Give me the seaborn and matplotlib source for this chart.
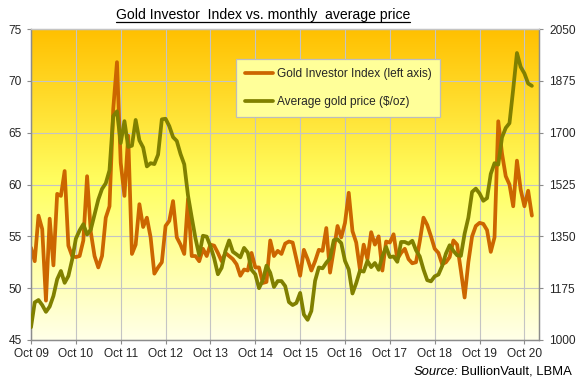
import numpy as np
import pandas as pd
import matplotlib
matplotlib.use("Agg")
import matplotlib.pyplot as plt
import seaborn as sns
from matplotlib.colors import LinearSegmentedColormap
from matplotlib.lines import Line2D

# ---------------- data ----------------
tick_labels = ["Oct 09", "Oct 10", "Oct 11", "Oct 12", "Oct 13", "Oct 14",
               "Oct 15", "Oct 16", "Oct 17", "Oct 18", "Oct 19", "Oct 20"]

series_names = ["Gold Investor Index (left axis)", "Average gold price ($/oz)"]

# Gold Investor Index, monthly Oct 2009 .. Dec 2020
investor_index = [
    53.9, 52.6, 57.0,
    55.7, 48.8, 56.7, 52.2, 59.1, 58.9, 61.3, 54.1, 53.1, 53.0, 53.1, 54.6,
    60.8, 55.4, 53.1, 52.0, 53.1, 56.8, 57.9, 67.3, 71.8, 62.1, 58.9, 64.7,
    53.3, 54.2, 58.1, 55.9, 56.8, 54.9, 51.4, 52.0, 52.5, 56.0, 56.5, 58.4,
    54.9, 54.2, 53.3, 58.6, 53.1, 53.1, 52.6, 53.8, 53.1, 54.2, 54.1, 53.4,
    52.6, 53.4, 53.1, 52.8, 52.3, 51.2, 51.8, 51.7, 53.4, 52.0, 52.0, 50.5,
    50.6, 54.6, 53.1, 53.6, 53.3, 54.3, 54.5, 54.4, 52.8, 51.2, 53.7, 52.8,
    51.7, 52.6, 53.7, 53.6, 55.8, 51.5, 53.7, 56.0, 54.9, 56.3, 59.2, 55.5,
    54.4, 51.8, 54.2, 52.8, 55.4, 54.2, 55.0, 51.7, 54.5, 54.4, 55.2, 52.8,
    53.4, 53.8, 52.8, 52.4, 52.5, 54.5, 56.8, 56.1, 55.0, 53.8, 53.4, 52.3,
    52.5, 53.0, 54.6, 54.2, 51.7, 49.1, 52.5, 55.0, 56.0, 56.3, 56.2, 55.6,
    53.5, 54.9, 66.1, 63.0, 60.8, 60.0, 57.9, 62.3, 59.5, 57.9, 59.4, 57.0,
]

# Average gold price ($/oz), monthly Oct 2009 .. Dec 2020
gold_price = [
    1043, 1127, 1135,
    1118, 1095, 1113, 1149, 1205, 1233, 1193, 1216, 1271, 1342, 1370, 1391,
    1356, 1373, 1424, 1474, 1510, 1529, 1573, 1756, 1772, 1665, 1739, 1652,
    1656, 1743, 1674, 1650, 1586, 1597, 1594, 1626, 1745, 1747, 1722, 1685,
    1672, 1628, 1593, 1488, 1414, 1343, 1286, 1352, 1349, 1317, 1276, 1222,
    1244, 1300, 1336, 1298, 1289, 1279, 1311, 1295, 1237, 1222, 1175, 1201,
    1251, 1227, 1179, 1199, 1199, 1182, 1128, 1118, 1125, 1159, 1086, 1068,
    1098, 1200, 1245, 1242, 1261, 1276, 1337, 1340, 1327, 1267, 1238, 1157,
    1192, 1234, 1231, 1267, 1246, 1260, 1237, 1283, 1314, 1280, 1282, 1264,
    1331, 1331, 1325, 1335, 1303, 1282, 1238, 1202, 1198, 1215, 1221, 1250,
    1292, 1320, 1301, 1286, 1284, 1359, 1413, 1500, 1511, 1495, 1470, 1479,
    1561, 1597, 1592, 1684, 1716, 1732, 1847, 1969, 1922, 1900, 1866, 1858,
]

months = list(range(len(investor_index)))

left_ticks = [45, 50, 55, 60, 65, 70, 75]
right_ticks = [1000, 1175, 1350, 1525, 1700, 1875, 2050]

# ---------------- style ----------------
sns.set_style("white")
plt.rcParams['font.family'] = ['Liberation Sans', 'DejaVu Sans']

W, H = 578, 381
fig = plt.figure(figsize=(W / 100, H / 100), dpi=100)
fig.patch.set_facecolor("white")

ax = fig.add_axes([31 / W, 1 - 340 / H, (539 - 31) / W, (340 - 29) / H])
ax2 = ax.twinx()

# gradient background
cmap = LinearSegmentedColormap.from_list(
    "goldbg", [(0.0, "#FFFFE8"), (0.5, "#FFFF62"), (1.0, "#FFC000")])
grad = np.linspace(0, 1, 256).reshape(-1, 1)
ax.imshow(grad, aspect="auto", cmap=cmap, extent=[0, 1, 0, 1],
          transform=ax.transAxes, origin="lower", zorder=0, interpolation="bilinear")

df = pd.DataFrame({"month": months, "index": investor_index, "gold": gold_price})

c_idx = "#CC6600"
c_gold = "#808000"
lw = 2.7

sns.lineplot(data=df, x="month", y="index", ax=ax, color=c_idx, linewidth=lw,
             legend=False, zorder=3)
sns.lineplot(data=df, x="month", y="gold", ax=ax2, color=c_gold, linewidth=lw,
             legend=False, zorder=3)

ax.set_xlim(0, 135.9)
ax.set_ylim(45, 75)
ax2.set_ylim(1000, 2050)

ax.set_xticks(list(range(0, 12 * len(tick_labels), 12)))
ax.set_xticklabels(tick_labels)
ax.set_yticks(left_ticks)
ax.set_yticklabels([str(v) for v in left_ticks])
ax2.set_yticks(right_ticks)
ax2.set_yticklabels([str(v) for v in right_ticks])

ax.set_xlabel("")
ax.set_ylabel("")
ax2.set_ylabel("")

ax.set_axisbelow(True)
ax.grid(True, color="#C4C4C4", linewidth=0.8)
ax2.grid(False)

spine_c = "#8C8C8C"
for a in (ax, ax2):
    a.spines["left"].set_color(spine_c)
    a.spines["right"].set_color(spine_c)
    a.spines["bottom"].set_color(spine_c)
    a.spines["top"].set_color("#C4C4C4")
    for s in a.spines.values():
        s.set_linewidth(0.9)

fs = 8.6
ax.tick_params(axis="y", direction="out", length=3, width=0.8, color=spine_c,
               labelsize=fs, pad=3.5, left=True)
ax.tick_params(axis="x", direction="out", length=3, width=0.8, color=spine_c,
               labelsize=fs, pad=3, bottom=True)
ax2.tick_params(axis="y", direction="out", length=3, width=0.8, color=spine_c,
                labelsize=fs, pad=4.5, right=True)

# legend
handles = [Line2D([], [], color=c_idx, lw=lw), Line2D([], [], color=c_gold, lw=lw)]
leg = ax2.legend(handles, series_names, loc="upper left",
                 bbox_to_anchor=(236 / W, 1 - 59 / H), bbox_transform=fig.transFigure,
                 frameon=True, fancybox=False, facecolor="#FFFF99", edgecolor="#BDBDBD",
                 framealpha=1, fontsize=fs, handlelength=2.35, handletextpad=0.3,
                 labelspacing=1.35, borderpad=0.75, borderaxespad=0)
leg.get_frame().set_linewidth(0.9)

# title with underline
title = fig.text(263 / W, 1 - 19.5 / H, "Gold Investor  Index vs. monthly  average price",
                 ha="center", va="baseline", fontsize=10.1, color="black")

# source
src_fs = 9.4
src2 = fig.text(572 / W, 1 - 375 / H, "BullionVault, LBMA", ha="right", va="baseline",
                fontsize=src_fs, color="black")

fig.canvas.draw()
r = fig.canvas.get_renderer()
bb = title.get_window_extent(r)
fig.add_artist(Line2D([bb.x0 / W, bb.x1 / W], [(H - 22) / H, (H - 22) / H],
                      transform=fig.transFigure, color="black", lw=0.9))
bb2 = src2.get_window_extent(r)
fig.text((bb2.x0 - 3) / W, 1 - 375 / H, "Source:", ha="right", va="baseline",
         fontsize=src_fs, style="italic", color="black")

fig.savefig("out.png", dpi=100)
